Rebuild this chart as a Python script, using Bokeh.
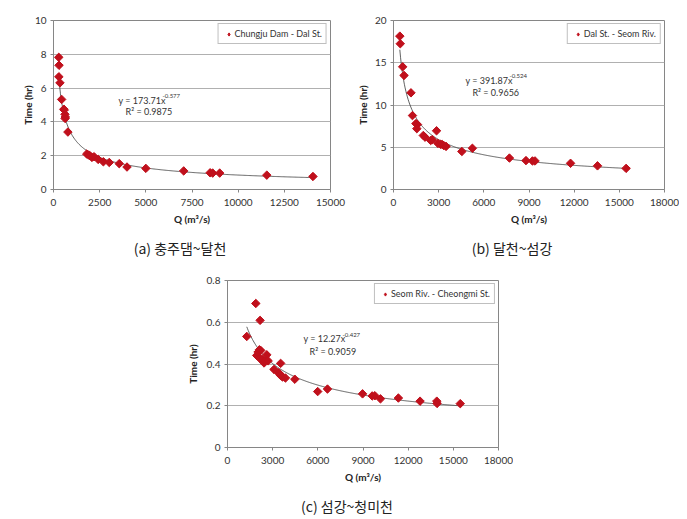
import numpy as np
from bokeh.plotting import figure
from bokeh.models import Range1d, FixedTicker, Label, Spacer, Div
from bokeh.layouts import row, column
from bokeh.embed import file_html
from bokeh.resources import INLINE

# ---------------- data ----------------
# (a) Chungju Dam - Dal St.
qa = [285, 300, 290, 350, 440, 560, 580, 620, 640, 630, 780, 1800, 1900, 1980, 2080,
      2200, 2420, 2700, 3020, 3560, 3980, 5000, 7050, 8480, 8620, 9000, 11550, 14050]
ta = [7.82, 7.35, 6.67, 6.31, 5.33, 4.75, 4.71, 4.45, 4.29, 4.20, 3.40, 2.10, 2.04, 2.00, 1.90,
      1.94, 1.78, 1.64, 1.60, 1.53, 1.33, 1.25, 1.10, 0.99, 0.97, 0.97, 0.85, 0.77]
fit_a = (173.71, -0.577)
r2_a = "0.9875"

# (b) Dal St. - Seom Riv.
qb = [420, 450, 610, 700, 1160, 1260, 1490, 1590, 1550, 1980, 2100, 2470, 2570, 2860, 2950,
      3120, 3230, 3340, 3490, 4540, 5240, 7700, 8800, 9230, 9400, 11760, 13550, 15450]
tb = [18.15, 17.25, 14.52, 13.5, 11.44, 8.75, 7.8, 7.69, 7.2, 6.39, 6.19, 5.8, 5.9, 6.95, 5.45,
      5.35, 5.33, 5.2, 5.1, 4.5, 4.88, 3.72, 3.42, 3.38, 3.38, 3.1, 2.8, 2.5]
fit_b = (391.87, -0.524)
r2_b = "0.9656"

# (c) Seom Riv. - Cheongmi St.
qc = [1280, 1880, 2165, 1940, 2030, 2120, 2210, 2170, 2300, 2430, 2520, 2610, 2700, 3090, 3380,
      3470, 3530, 3530, 3650, 3850, 4470, 5990, 6640, 8970, 9610, 9790, 10160, 11350, 12790,
      13900, 13920, 15460]
tc = [0.532, 0.690, 0.609, 0.441, 0.457, 0.468, 0.465, 0.425, 0.422, 0.405, 0.417, 0.444, 0.415,
      0.374, 0.358, 0.353, 0.345, 0.403, 0.338, 0.333, 0.327, 0.268, 0.280, 0.257, 0.247, 0.248,
      0.233, 0.237, 0.222, 0.222, 0.211, 0.210]
fit_c = (12.27, -0.427)
r2_c = "0.9059"

names = ["Chungju Dam - Dal St.", "Dal St. - Seom Riv.", "Seom Riv. - Cheongmi St."]
captions = ["(a) 충주댐~달천", "(b) 달천~섬강", "(c) 섬강~청미천"]

FONT = "Lato"
MARK = "#c0101c"
GRID = "#b0b0b0"
AXIS = "#868686"
TXT = "#333333"


def panel(q, t, fit, r2, name, xmax, xstep, ymax, yticks, ylabels,
          width, height, mb_left, mb_right, mb_top, mb_bottom, eq_pos, sup_off, ylab_standoff):
    p = figure(width=width, height=height, output_backend="svg", toolbar_location=None,
               x_range=Range1d(0, xmax), y_range=Range1d(0, ymax),
               min_border_left=mb_left, min_border_right=mb_right,
               min_border_top=mb_top, min_border_bottom=mb_bottom)
    p.background_fill_color = "white"
    p.border_fill_color = "white"
    p.outline_line_color = AXIS
    p.xgrid.visible = False
    p.ygrid.grid_line_color = GRID
    p.ygrid.grid_line_width = 1
    p.xaxis.ticker = FixedTicker(ticks=list(range(0, xmax + 1, xstep)))
    p.yaxis.ticker = FixedTicker(ticks=yticks)
    p.yaxis.major_label_overrides = {v: s for v, s in zip(yticks, ylabels)}
    for ax in (p.xaxis, p.yaxis):
        ax.axis_line_color = AXIS
        ax.major_tick_line_color = AXIS
        ax.major_tick_out = 3
        ax.major_tick_in = 0
        ax.minor_tick_line_color = None
        ax.major_label_text_font = FONT
        ax.major_label_text_font_size = "10px"
        ax.major_label_text_color = TXT
        ax.major_label_standoff = 4
        ax.axis_label_text_font = FONT
        ax.axis_label_text_font_size = "10px"
        ax.axis_label_text_font_style = "bold"
        ax.axis_label_text_color = "#222222"
    p.xaxis.major_label_standoff = 6
    p.xaxis.axis_label_standoff = 4
    p.yaxis.axis_label_standoff = ylab_standoff
    p.xaxis.axis_label = "Q (m³/s)"
    p.yaxis.axis_label = "Time (hr)"

    # trend line from the displayed power-law coefficients
    xs = np.linspace(min(q), max(q), 300)
    ys = fit[0] * xs ** fit[1]
    p.line(xs, ys, line_color="#3a3a3a", line_width=0.8)

    # diamond glyph used for the legend entry (hidden under the plotted markers)
    p.scatter(q, t, marker="diamond", size=6.5, fill_color=MARK, line_color=MARK,
              legend_label=name)
    p.scatter(q, t, marker="square", angle=np.pi / 4, size=6,
              fill_color=MARK, line_color=MARK)

    lg = p.legend[0]
    lg.location = "top_right"
    lg.margin = 3
    lg.padding = 4
    lg.spacing = 0
    lg.glyph_width = 12
    lg.glyph_height = 8
    lg.label_height = 8
    lg.label_standoff = 0
    lg.label_text_font = FONT
    lg.label_text_font_size = "9px"
    lg.label_text_color = TXT
    lg.border_line_color = "#808080"
    lg.border_line_width = 1
    lg.background_fill_color = "white"
    lg.background_fill_alpha = 1

    ex, ey, ex2, ey2 = eq_pos
    base = "y = %.2fx" % fit[0]
    p.add_layout(Label(x=ex, y=ey, text=base, text_font=FONT, text_font_size="9px",
                       text_color=TXT, text_baseline="middle", text_align="left"))
    p.add_layout(Label(x=ex, y=ey, text="%.3f" % fit[1], text_font=FONT, text_font_size="6px",
                       text_color=TXT, text_baseline="middle", text_align="left",
                       x_offset=sup_off, y_offset=4))
    p.add_layout(Label(x=ex2, y=ey2, text="R² = " + r2, text_font=FONT, text_font_size="9px",
                       text_color=TXT, text_baseline="middle", text_align="left"))
    return p


def caption_div(text, width, height):
    return Div(text=text, width=width, height=height,
               styles={"text-align": "center", "font-family": "'Noto Sans CJK KR'",
                       "font-size": "14px", "line-height": "%dpx" % height,
                       "color": "#222222", "margin": "0", "padding": "0"})


pa = panel(qa, ta, fit_a, r2_a, names[0], 15000, 2500, 10, [0, 2, 4, 6, 8, 10],
           ["0", "2", "4", "6", "8", "10"],
           width=353, height=236, mb_left=53, mb_right=23, mb_top=19, mb_bottom=47,
           eq_pos=(3520, 5.29, 3900, 4.59), sup_off=44, ylab_standoff=-2)

pb = panel(qb, tb, fit_b, r2_b, names[1], 18000, 3000, 20, [0, 5, 10, 15, 20],
           ["0", "5", "10", "15", "20"],
           width=326, height=236, mb_left=36, mb_right=15, mb_top=20, mb_bottom=47,
           eq_pos=(4780, 12.9, 5240, 11.48), sup_off=44, ylab_standoff=3)

pc = panel(qc, tc, fit_c, r2_c, names[2], 18000, 3000, 0.8,
           [0, 0.2, 0.4, 0.6, 0.8], ["0", "0.2", "0.4", "0.6", "0.8"],
           width=335, height=233, mb_left=49, mb_right=15, mb_top=20, mb_bottom=46,
           eq_pos=(5050, 0.522, 5450, 0.46), sup_off=39, ylab_standoff=5)

cap_a = caption_div(captions[0], 360, 24)
cap_b = caption_div(captions[1], 304, 24)
cap_c = caption_div(captions[2], 334, 26)

layout = column(row(pa, pb),
                row(cap_a, cap_b),
                row(Spacer(width=178, height=10), pc),
                row(Spacer(width=180, height=10), cap_c))

open("out.html", "w").write(file_html(layout, INLINE))
